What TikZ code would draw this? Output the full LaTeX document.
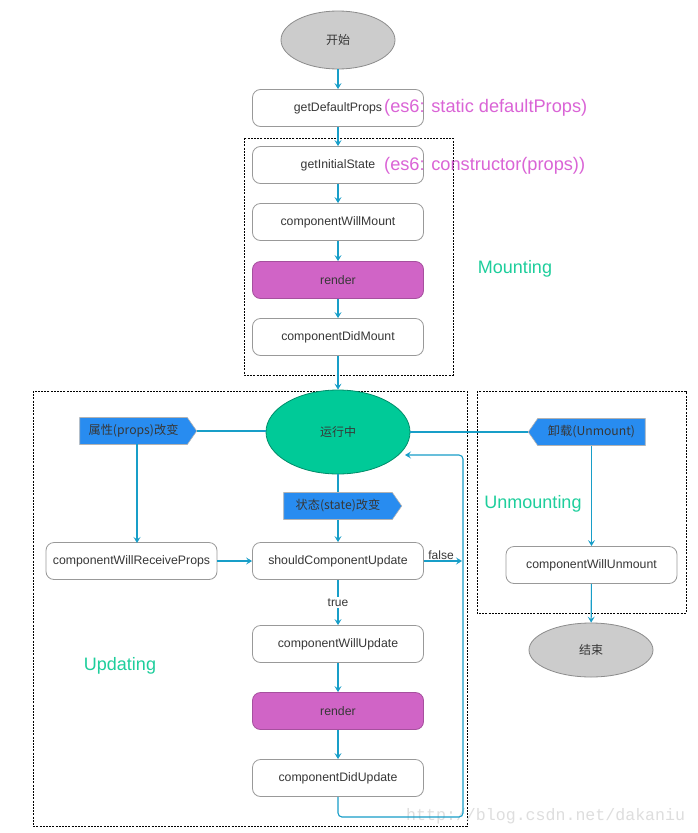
\documentclass[tikz,border=0pt]{standalone}
\usepackage{fontspec}
\setmainfont{Liberation Sans}
\newfontfamily\cjk{Noto Sans CJK SC}
\newfontfamily\wmfont{Liberation Mono}
\usetikzlibrary{shapes.geometric,shapes.symbols,arrows.meta}
\definecolor{arrowc}{RGB}{24,158,200}
\definecolor{rendermag}{RGB}{208,100,198}
\definecolor{rungreen}{RGB}{0,202,152}
\definecolor{tagblue}{RGB}{40,140,240}
\definecolor{pinktext}{RGB}{218,100,214}
\definecolor{phasegreen}{RGB}{30,206,156}
\definecolor{textc}{RGB}{55,55,55}
\begin{document}
\begin{tikzpicture}[x=1pt,y=-1pt,
  box/.style={draw=black!40, rounded corners=8pt, minimum width=171pt, minimum height=37pt, font=\fontsize{12.3}{14}\selectfont, text=textc, line width=0.8pt, inner sep=0pt},
  renderbox/.style={box, fill=rendermag, draw=rendermag!80!black},
  greyell/.style={ellipse, draw=black!45, fill=black!20, line width=0.8pt, font=\cjk\fontsize{12}{14}\selectfont, text=textc},
  tagshape/.style={signal, signal pointer angle=110, fill=tagblue, draw=black!30, line width=0.6pt, minimum height=27pt, inner sep=0pt, font=\cjk\fontsize{12.2}{14}\selectfont, text=textc},
  arr/.style={draw=arrowc, line width=1.1pt, -{Stealth[length=6pt,width=7pt,inset=2.5pt]}},
  ln/.style={draw=arrowc, line width=1.1pt},
  dashbox/.style={draw=black, dash pattern=on 2pt off 1.2pt, line width=0.7pt},
  pinklbl/.style={text=pinktext, font=\fontsize{18.2}{20}\selectfont, anchor=west, inner sep=0pt},
  phase/.style={text=phasegreen, font=\fontsize{18}{20}\selectfont},
  small/.style={text=textc, font=\fontsize{12}{14}\selectfont}
]
\useasboundingbox (0,0) rectangle (698,833);
\fill[white] (0,0) rectangle (698,833);

% dashed phase boxes
\draw[dashbox] (244,138) rectangle (453,375);
\draw[dashbox] (33,391) rectangle (467,826);
\draw[dashbox] (477,391) rectangle (686,613);

% mounting column
\node[greyell, minimum width=114pt, minimum height=58pt] (start) at (338,40) {开始};
\node[box] (gdp) at (338,108) {getDefaultProps};
\node[box] (gis) at (338,165) {getInitialState};
\node[box] (cwm) at (338,222) {componentWillMount};
\node[renderbox] (r1) at (338,280) {render};
\node[box] (cdm) at (338,337) {componentDidMount};

\node[pinklbl] (es1) at (384,108) {(es6: static defaultProps)};
\node[pinklbl] (es2) at (384,166) {(es6: constructor(props))};
\node[phase] (mnt) at (515,269) {Mounting};

% running
\node[ellipse, fill=rungreen, draw=rungreen!70!black, line width=0.8pt, minimum width=144pt, minimum height=84pt, font=\cjk\fontsize{12}{14}\selectfont, text=textc] (run) at (338,432) {运行中};

% tags
\node[tagshape, signal to=east, minimum width=117pt] (tprops) at (133.5,431) {属性(props)改变};
\node[tagshape, signal to=east, minimum width=118pt] (tstate) at (338,506) {状态(state)改变};
\node[tagshape, signal to=west, minimum width=117pt] (tunm) at (591.5,432) {卸载(Unmount)};

% updating
\node[box] (cwrp) at (131.5,561) {componentWillReceiveProps};
\node[box] (scu) at (338,561) {shouldComponentUpdate};
\node[box] (cwu) at (338,644) {componentWillUpdate};
\node[renderbox] (r2) at (338,711) {render};
\node[box] (cdu) at (338,778) {componentDidUpdate};
\node[phase] (upd) at (120,666) {Updating};

% unmounting
\node[box] (cwun) at (591.5,565) {componentWillUnmount};
\node[greyell, minimum width=124pt, minimum height=54pt] (end) at (591,650) {结束};
\node[phase] (unm) at (533,504) {Unmounting};

% watermark
\node[text=black!13, font=\wmfont\fontsize{16.6}{18}\selectfont, anchor=west, inner sep=0pt] (wm) at (406,816) {http://blog.csdn.net/dakaniu};

% connectors: mounting
\draw[arr] (start) -- (gdp);
\draw[arr] (gdp) -- (gis);
\draw[arr] (gis) -- (cwm);
\draw[arr] (cwm) -- (r1);
\draw[arr] (r1) -- (cdm);
\draw[arr] (cdm) -- (run);

% props branch
\draw[ln] (tprops.east) -- (tprops.east -| run.west);
\coordinate (tpb) at (137,444);
\coordinate (cwrpt) at (137,543);
\draw[arr] (tpb) -- (cwrpt);
\draw[arr] (cwrp) -- (scu);

% state branch
\draw[ln] (run.south) -- (tstate.north);
\draw[arr] (tstate.south) -- (scu.north);

% false
\coordinate (fend) at (462,561);
\draw[arr] (scu.east) -- node[above, small, pos=0.45, yshift=-1pt, inner sep=2pt] (flbl) {false} (fend);

% true
\draw[arr] (scu) -- node[small, fill=white, inner sep=2pt] (tlbl) {true} (cwu);
\draw[arr] (cwu) -- (r2);
\draw[arr] (r2) -- (cdu);

% feedback
\coordinate (fb1) at (463,817);
\coordinate (fb2) at (463,455);
\coordinate (fbend) at (405,455);
\draw[arr, rounded corners=4pt] (cdu.south) |- (fb1) -- (fb2) -- (fbend);

% unmount
\draw[ln] (tunm.west) -- (tunm.west -| run.east);
\draw[arr] (tunm.south) -- (cwun.north);
\draw[arr] (cwun) -- (end);
\end{tikzpicture}
\end{document}
